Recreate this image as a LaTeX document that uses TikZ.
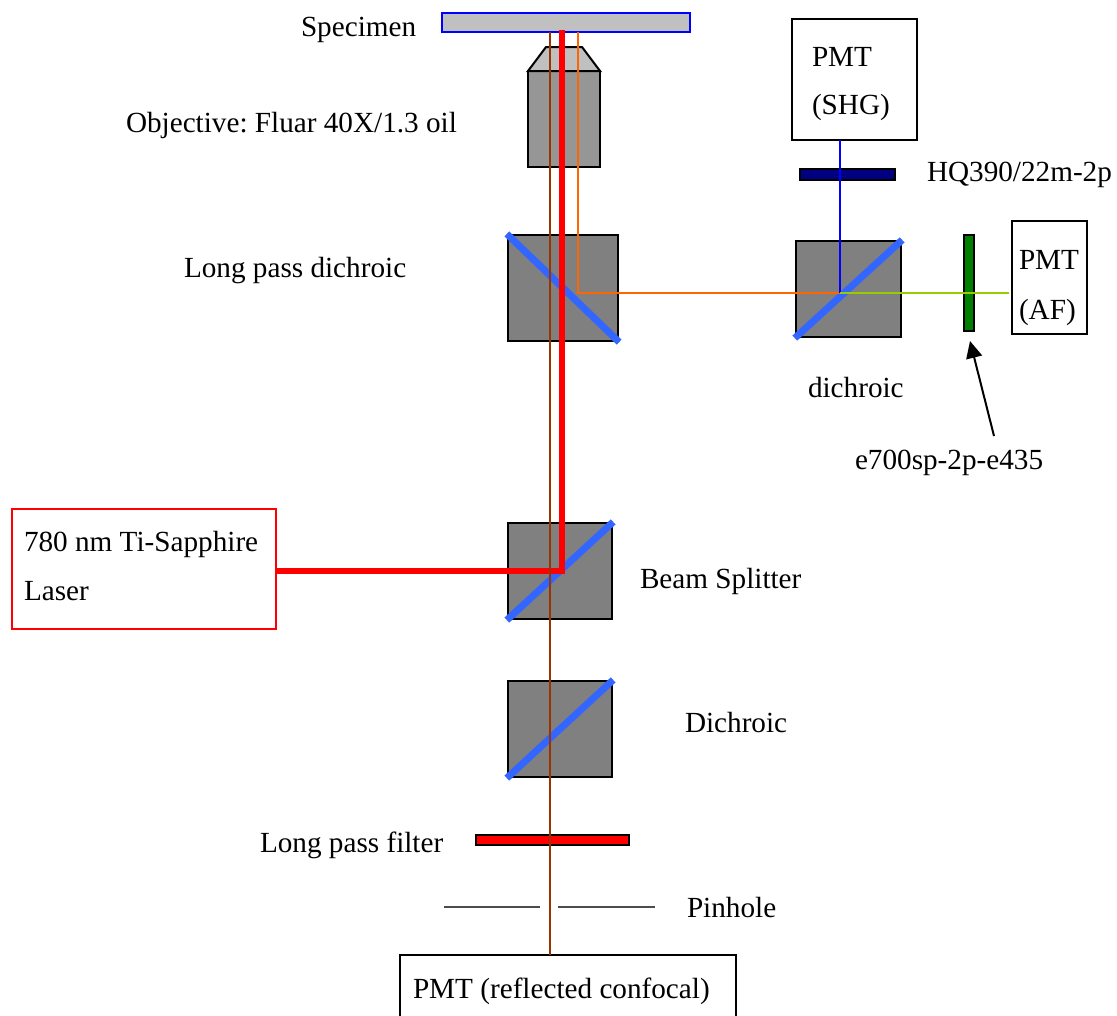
\documentclass[tikz,border=0pt]{standalone}
\usepackage{fontspec}
\setmainfont{Liberation Serif}
\usepackage{xcolor}
\usetikzlibrary{arrows.meta, positioning}
\definecolor{specgray}{HTML}{C0C0C0}
\definecolor{objgray}{HTML}{969696}
\definecolor{mirrorblue}{HTML}{3366FF}
\definecolor{brownbeam}{HTML}{993300}
\definecolor{orangebeam}{HTML}{FF6600}
\definecolor{greenbeam}{HTML}{99CC00}
\definecolor{navyfilter}{HTML}{000080}
\definecolor{greenfilter}{HTML}{008000}

\begin{document}
\frenchspacing
\begin{tikzpicture}[
    x=0.25mm, y=-0.25mm,
    every node/.style={font=\fontsize{7.3mm}{12mm}\selectfont, inner sep=0pt, outer sep=0pt},
    caption/.style={anchor=base west},
    boxtext/.style={anchor=west, align=left},
    panel/.style={draw, line width=0.5mm},
    cube/.style={draw, line width=0.6mm, fill=gray},
    filterbar/.style={draw, line width=0.5mm},
    mirror/.style={line width=1.75mm, mirrorblue, shorten >=-0.4mm, shorten <=-0.4mm},
    beam/.style={line width=0.7mm},
]
  \useasboundingbox (0,0) rectangle (1117,1015);

  \node[filterbar, draw=blue, fill=specgray, minimum width=62mm, minimum height=4.75mm]
        (specimen) at (566,22.5) {};
  \node[draw, line width=0.5mm, fill=objgray, minimum width=18mm, minimum height=24mm]
        (objective) at (564,119) {};
  \draw[line width=0.5mm, fill=specgray] (objective.north west) -- (546,47) -- (582,47)
        -- (objective.north east) -- cycle;

  \node[cube, minimum width=27.5mm, minimum height=26.5mm] (longpass) at (563,288) {};
  \node[cube, minimum width=26.25mm, minimum height=24mm] (sidecube) at (848.5,289) {};
  \node[cube, minimum width=26mm, minimum height=24mm] (splitter) at (560,571) {};
  \node[cube, minimum width=26mm, minimum height=24mm] (dichroic) at (560,729) {};

  \draw[mirror] (longpass.north west) -- (longpass.south east);
  \draw[mirror] (sidecube.south west) -- (sidecube.north east);
  \draw[mirror] (splitter.south west) -- (splitter.north east);
  \draw[mirror] (dichroic.south west) -- (dichroic.north east);

  \node[filterbar, fill=navyfilter, minimum width=23.75mm, minimum height=2.75mm]
        (shgfilter) at (847.5,174.5) {};
  \node[filterbar, fill=greenfilter, minimum width=2.5mm, minimum height=24mm]
        (affilter) at (969,283) {};
  \node[filterbar, fill=red, minimum width=38.25mm, minimum height=2.5mm]
        (lpfilter) at (552.5,840) {};

  \node[panel, minimum width=31.25mm, minimum height=30.25mm] (pmtshg) at (854.5,79.5) {};
  \node[panel, minimum width=18.75mm, minimum height=28.25mm] (pmtaf) at (1049.5,277.5) {};
  \node[panel, draw=red, minimum width=66mm, minimum height=30mm] (laser) at (144,569) {};
  \node[panel, minimum width=84mm, minimum height=16.5mm] (pmtconf) at (568,988) {};

  \node[boxtext] (pmtshgtext) at (812,84) {PMT\\(SHG)};
  \node[boxtext] (pmtaftext) at (1019,288) {PMT\\[0.5mm](AF)};
  \node[boxtext] (lasertext) at (24,566) {780 nm Ti-Sapphire\\Laser};
  \node[boxtext] (pmtconftext) at (413,991) {PMT (reflected confocal)};

  \coordinate (redtop) at (562,30);
  \coordinate (redturn) at (562,571);
  \coordinate (browntop) at (550,32);
  \coordinate (orangeturn) at (578,293);
  \coordinate (sidesplit) at (840,293);
  \coordinate (greenend) at (1009,293);

  \draw[beam, red, line width=1.5mm] (laser.east |- redturn) -- (redturn) -- (redtop);
  \draw[beam, brownbeam] (browntop) -- (browntop |- pmtconf.north);
  \draw[beam, orangebeam] (orangeturn |- specimen.south) -- (orangeturn) -- (sidesplit);
  \draw[beam, blue] (sidesplit) -- (sidesplit |- pmtshg.south);
  \draw[beam, greenbeam] (sidesplit) -- (greenend);

  \coordinate (pinleftA) at (444,907);
  \coordinate (pinleftB) at (540,907);
  \coordinate (pinrightA) at (558,907);
  \coordinate (pinrightB) at (655,907);
  \draw[line width=0.45mm, black!70] (pinleftA) -- (pinleftB);
  \draw[line width=0.45mm, black!70] (pinrightA) -- (pinrightB);

  \node[caption] (afname) at (855,469) {e700sp-2p-e435};
  \coordinate (aftail) at (994,436);
  \coordinate (aftip) at (970,341);
  \draw[-{Triangle[length=4.25mm, width=4mm]}, line width=0.5mm] (aftail) -- (aftip);

  \node[caption] (specimenlabel) at (301,36) {Specimen};
  \node[caption] (objectivelabel) at (126,132) {Objective: Fluar 40X/1.3 oil};
  \node[caption] (longpasslabel) at (184,277) {Long pass dichroic};
  \node[caption] (shglabel) at (927,181) {HQ390/22m-2p};
  \node[caption] (sidelabel) at (808,397) {dichroic};
  \node[caption] (splitterlabel) at (640,588) {Beam Splitter};
  \node[caption] (dichroiclabel) at (685,732) {Dichroic};
  \node[caption] (lplabel) at (260,852) {Long pass filter};
  \node[caption] (pinholelabel) at (687,917) {Pinhole};
\end{tikzpicture}
\end{document}
